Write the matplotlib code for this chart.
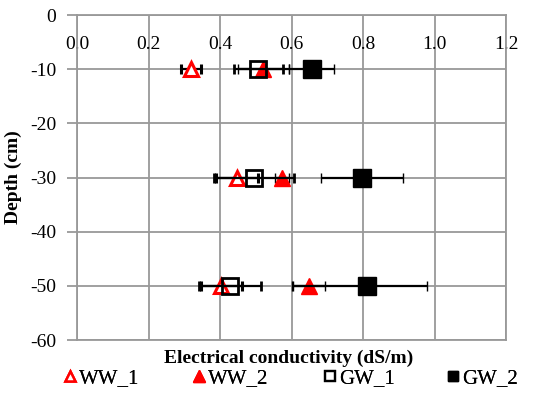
import matplotlib
matplotlib.use("Agg")
import matplotlib.pyplot as plt
from matplotlib.lines import Line2D

depth = [-10, -30, -50]
ww1 = [0.320, 0.448, 0.404]
ww1_err = [0.028, 0.058, 0.058]
ww2 = [0.521, 0.574, 0.648]
ww2_err = [0.071, 0.02, 0.046]
gw1 = [0.507, 0.495, 0.428]
gw1_err = [0.068, 0.111, 0.087]
gw2 = [0.656, 0.798, 0.812]
gw2_err_lo = [0.062, 0.115, 0.209]
gw2_err_hi = [0.062, 0.115, 0.168]

xticks = [0.0, 0.2, 0.4, 0.6, 0.8, 1.0, 1.2]
yticks = [0, -10, -20, -30, -40, -50, -60]
labels = ['WW_1', 'WW_2', 'GW_1', 'GW_2']

plt.rcParams['font.family'] = ['Liberation Serif', 'DejaVu Serif']

fig = plt.figure(figsize=(5.5, 3.96), dpi=100)
ax = fig.add_axes([0.14, 0.141, 0.78, 0.821])

ekw = dict(ecolor='black', elinewidth=1.6, capsize=3.5, capthick=1.6, linestyle='none')
ax.errorbar(ww1, depth, xerr=ww1_err, marker='^', ms=10, mfc='white', mec='red', mew=2.2, **ekw, zorder=3)
ax.errorbar(ww2, depth, xerr=ww2_err, marker='^', ms=11, mfc='red', mec='red', mew=1, **ekw, zorder=3)
ax.errorbar(gw1, depth, xerr=gw1_err, marker='s', ms=11, mfc='none', mec='black', mew=2, **ekw, zorder=4)
ax.errorbar(gw2, depth, xerr=[gw2_err_lo, gw2_err_hi], marker='s', ms=13, mfc='black', mec='black', mew=1, **ekw, zorder=4)

ax.set_xlim(0, 1.2)
ax.set_ylim(-60, 0)
ax.set_xticks(xticks)
ax.set_xticklabels([f"{v:.1f}" for v in xticks])
ax.set_yticks(yticks)
ax.set_yticklabels([str(v) for v in yticks])
ax.grid(True, color='#999999', linewidth=1.3)
ax.set_axisbelow(True)
for s in ax.spines.values():
    s.set_color('#999999')
    s.set_linewidth(1.3)
ax.tick_params(axis='x', top=True, bottom=False, labeltop=True, labelbottom=False,
               length=0, pad=-27, labelsize=14)
ax.tick_params(axis='y', direction='out', length=7, width=1.3, color='#999999', labelsize=14, pad=8)

ax.set_ylabel('Depth (cm)', fontsize=14, fontweight='bold', labelpad=6)
fig.text(0.525, 0.095, 'Electrical conductivity (dS/m)', ha='center', va='center', fontsize=14, fontweight='bold')

handles = [
    Line2D([], [], marker='^', ls='none', ms=7, mfc='white', mec='red', mew=1.8),
    Line2D([], [], marker='^', ls='none', ms=8, mfc='red', mec='red'),
    Line2D([], [], marker='s', ls='none', ms=7, mfc='none', mec='black', mew=1.6),
    Line2D([], [], marker='s', ls='none', ms=7, mfc='black', mec='black'),
]
xpos = [0.115, 0.35, 0.588, 0.812]
for h, lab, xp in zip(handles, labels, xpos):
    leg = fig.legend([h], [lab], loc='center left', bbox_to_anchor=(xp, 0.045),
                     frameon=False, fontsize=15, handlelength=0.6, handletextpad=0.15,
                     borderpad=0, borderaxespad=0)
    fig.add_artist(leg)

fig.savefig('out.png', dpi=100)
